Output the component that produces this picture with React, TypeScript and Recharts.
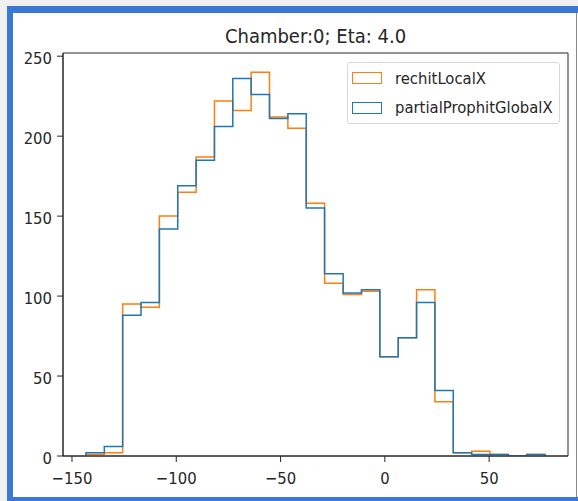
import React from 'react';
import {
  LineChart,
  Line,
  XAxis,
  YAxis,
  Legend,
  ReferenceArea,
} from 'recharts';

// histogram bin edges (25 bins)
const binEdges = [
  -143.3, -134.5, -125.7, -116.9, -108.1, -99.3, -90.5, -81.7, -72.9, -64.1, -55.3, -46.5, -37.7,
  -28.9, -20.0, -11.2, -2.4, 6.4, 15.2, 24.0, 32.8, 41.6, 50.4, 59.2, 68.0, 76.8,
];

const rechitLocalX = [
  1, 2, 95, 93, 150, 165, 187, 222, 216, 240, 212, 205, 158, 108, 101, 103, 62, 74, 104, 34, 2, 3, 1, 0, 1,
];

const partialProphitGlobalX = [
  2, 6, 88, 96, 142, 169, 185, 206, 236, 226, 211, 214, 155, 114, 102, 104, 62, 74, 96, 41, 2, 1, 1, 0, 1,
];

const xTicks = [-150, -100, -50, 0, 50];
const yTicks = [0, 50, 100, 150, 200, 250];
const xDomain: [number, number] = [-154.3, 87.8];
const yDomain: [number, number] = [0, 252];

const ORANGE = '#ff7f0e';
const BLUE = '#1f77b4';
const FONT = "'DejaVu Sans Condensed', 'DejaVu Sans', sans-serif";

// outline of a step histogram: up from baseline, across each bin, back down
const toSteps = (counts: number[]) => {
  const pts = [{ x: binEdges[0], y: 0 }];
  counts.forEach((c, i) => pts.push({ x: binEdges[i], y: c }));
  pts.push({ x: binEdges[binEdges.length - 1], y: 0 });
  return pts;
};

const series = [
  { name: 'rechitLocalX', color: ORANGE, data: toSteps(rechitLocalX) },
  { name: 'partialProphitGlobalX', color: BLUE, data: toSteps(partialProphitGlobalX) },
];

const HistLegend = () => (
  <div
    style={{
      position: 'relative',
      width: 213,
      height: 62,
      boxSizing: 'border-box',
      border: '1px solid #d6d6d6',
      borderRadius: 3,
      background: 'rgba(255,255,255,0.8)',
      fontFamily: FONT,
      fontSize: 16.5,
      lineHeight: 1,
      color: '#262626',
    }}
  >
    {series.map((s, i) => (
      <React.Fragment key={s.name}>
        <div
          style={{
            position: 'absolute',
            left: 4,
            top: 9 + i * 30,
            width: 30,
            height: 12,
            boxSizing: 'border-box',
            border: `1.5px solid ${s.color}`,
            background: '#fff',
          }}
        />
        <div style={{ position: 'absolute', left: 47, top: 8 + i * 29, whiteSpace: 'nowrap' }}>{s.name}</div>
      </React.Fragment>
    ))}
  </div>
);

export default function App() {
  return (
    <div style={{ position: 'absolute', left: 0, top: 0, width: 578, height: 501, background: '#f0f0f0', overflow: 'hidden' }}>
      <div
        style={{
          position: 'absolute',
          left: 7,
          top: 6,
          width: 571,
          height: 495,
          boxSizing: 'border-box',
          background: '#fff',
          borderLeft: '6px solid #3b78d6',
          borderTop: '7px solid #3b78d6',
          borderBottom: '4px solid #3b78d6',
        }}
      >
        <div style={{ position: 'absolute', right: 1, top: 0, bottom: 0, width: 1, background: '#8a8a8a' }} />
      </div>
      <div
        style={{
          position: 'absolute',
          left: 63,
          width: 505,
          top: 26,
          textAlign: 'center',
          fontFamily: FONT,
          fontSize: 20,
          lineHeight: '20px',
          color: '#262626',
        }}
      >
        Chamber:0; Eta: 4.0
      </div>
      <div style={{ position: 'absolute', left: 0, top: 0 }}>
        <LineChart width={578} height={501} margin={{ top: 53, right: 10, bottom: 5, left: 8 }}>
          <XAxis
            type="number"
            dataKey="x"
            domain={xDomain}
            ticks={xTicks}
            allowDataOverflow
            height={40}
            tickSize={6}
            tickMargin={10}
            stroke="#262626"
            tick={{ fontSize: 16.5, fill: '#262626', fontFamily: FONT }}
            tickFormatter={(v: number) => (v < 0 ? `\u2212${Math.abs(v)}` : `${v}`)}
          />
          <YAxis
            type="number"
            domain={yDomain}
            ticks={yTicks}
            allowDataOverflow
            width={55}
            tickSize={6}
            tickMargin={5}
            stroke="#262626"
            tick={{ fontSize: 16.5, fill: '#262626', fontFamily: FONT, dy: 2 }}
          />
          <ReferenceArea
            x1={xDomain[0]}
            x2={xDomain[1]}
            y1={yDomain[0]}
            y2={yDomain[1]}
            fill="none"
            stroke="#262626"
            strokeWidth={1}
          />
          {series.map((s) => (
            <Line
              key={s.name}
              data={s.data}
              dataKey="y"
              name={s.name}
              type="stepAfter"
              stroke={s.color}
              strokeWidth={1.5}
              dot={false}
              activeDot={false}
              isAnimationActive={false}
            />
          ))}
          <Legend
            layout="vertical"
            align="center"
            verticalAlign="middle"
            wrapperStyle={{ top: 62, left: 347, width: 213, height: 62 }}
            content={() => <HistLegend />}
          />
        </LineChart>
      </div>
    </div>
  );
}
